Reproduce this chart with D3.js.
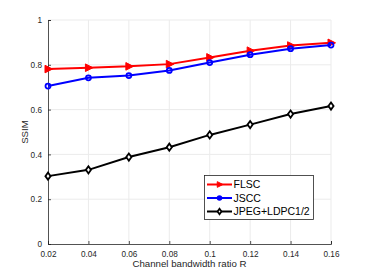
<!DOCTYPE html>
<html>
<head>
<meta charset="utf-8">
<script src="https://cdn.jsdelivr.net/npm/d3@7"></script>
<style>
body { margin: 0; background: #fff; }
text { font-family: "Liberation Sans", Arial, sans-serif; }
</style>
</head>
<body>
<div id="viz"></div>
<script>

var ratios = [0.02, 0.04, 0.06, 0.08, 0.1, 0.12, 0.14, 0.16];
var flsc = [0.781, 0.787, 0.793, 0.803, 0.833, 0.863, 0.886, 0.898];
var jscc = [0.705, 0.742, 0.752, 0.775, 0.810, 0.845, 0.872, 0.888];
var jpeg = [0.303, 0.331, 0.388, 0.432, 0.487, 0.533, 0.580, 0.616];
var xTicks = ["0.02", "0.04", "0.06", "0.08", "0.1", "0.12", "0.14", "0.16"];
var yTicks = ["0", "0.2", "0.4", "0.6", "0.8", "1"];
var names = ["FLSC", "JSCC", "JPEG+LDPC1/2"];

var viz = { width: 366, height: 274 };
var plot = { left: 48, right: 331, top: 20, bottom: 244 };

var svg = d3.select("#viz")
	.append("svg")
	.attr("width", viz.width)
	.attr("height", viz.height);

var x = d3.scaleLinear().domain([0.02, 0.16]).range([plot.left, plot.right]);
var y = d3.scaleLinear().domain([0, 1]).range([plot.bottom, plot.top]);

// grid
svg.append("g").selectAll("line")
	.data(xTicks.slice(1)).enter()
	.append("line")
	.attr("x1", d => x(+d)).attr("x2", d => x(+d))
	.attr("y1", plot.top).attr("y2", plot.bottom)
	.attr("stroke", "#ebebeb").attr("stroke-width", 1);
svg.append("g").selectAll("line")
	.data(yTicks.slice(1)).enter()
	.append("line")
	.attr("y1", d => y(+d)).attr("y2", d => y(+d))
	.attr("x1", plot.left).attr("x2", plot.right)
	.attr("stroke", "#ebebeb").attr("stroke-width", 1);

// axes
var xAxis = svg.append("g")
	.attr("transform", "translate(0," + plot.bottom + ")")
	.call(d3.axisBottom(x).tickValues(xTicks.map(Number)).tickFormat((d, i) => xTicks[i]).tickSize(-3).tickPadding(6));
var yAxis = svg.append("g")
	.attr("transform", "translate(" + plot.left + ",0)")
	.call(d3.axisLeft(y).tickValues(yTicks.map(Number)).tickFormat((d, i) => yTicks[i]).tickSize(-3).tickPadding(6));

[xAxis, yAxis].forEach(function(a) {
	a.select(".domain").attr("stroke", "#262626").attr("stroke-width", 0.8);
	a.selectAll(".tick line").attr("stroke", "#262626").attr("stroke-width", 0.8);
	a.selectAll(".tick text").attr("fill", "#262626").style("font-size", "8.2px")
		.style("font-family", "Liberation Sans, Arial, sans-serif");
});
xAxis.selectAll(".tick text").attr("dy", "0.85em");

svg.append("text")
	.attr("x", (plot.left + plot.right) / 2)
	.attr("y", 267)
	.attr("text-anchor", "middle")
	.attr("fill", "#262626")
	.style("font-size", "9.7px")
	.text("Channel bandwidth ratio R");

svg.append("text")
	.attr("transform", "translate(28," + (plot.top + plot.bottom) / 2 + ") rotate(-90)")
	.attr("text-anchor", "middle")
	.attr("fill", "#262626")
	.style("font-size", "9.7px")
	.text("SSIM");

var series = [
	{ name: names[0], vals: flsc, color: "#ff0000", marker: "tri" },
	{ name: names[1], vals: jscc, color: "#0000ff", marker: "circ" },
	{ name: names[2], vals: jpeg, color: "#000000", marker: "dia" }
];

function drawMarker(g, kind, color, cx, cy, k) {
	k = k || 1;
	if (kind == "tri") {
		g.append("path")
			.attr("d", "M" + (cx - 3 * k) + "," + (cy - 3.8 * k) + "L" + (cx + 4.5 * k) + "," + cy + "L" + (cx - 3 * k) + "," + (cy + 3.8 * k) + "Z")
			.attr("fill", color).attr("stroke", color).attr("stroke-width", 1);
	} else if (kind == "circ") {
		g.append("circle")
			.attr("cx", cx).attr("cy", cy).attr("r", 2.5 * k)
			.attr("fill", "none").attr("stroke", color).attr("stroke-width", 1.8);
	} else {
		g.append("path")
			.attr("d", "M" + cx + "," + (cy - 3.6 * k) + "L" + (cx + 2.6 * k) + "," + cy + "L" + cx + "," + (cy + 3.6 * k) + "L" + (cx - 2.6 * k) + "," + cy + "Z")
			.attr("fill", "#fff").attr("stroke", color).attr("stroke-width", 1.8);
	}
}

var line = d3.line().x((d, i) => x(ratios[i])).y(d => y(d));

series.forEach(function(s) {
	svg.append("path")
		.datum(s.vals)
		.attr("d", line)
		.attr("fill", "none")
		.attr("stroke", s.color)
		.attr("stroke-width", 2);
	var g = svg.append("g");
	s.vals.forEach(function(v, i) {
		drawMarker(g, s.marker, s.color, x(ratios[i]), y(v));
	});
});

// legend
var lg = svg.append("g");
lg.append("rect")
	.attr("x", 204.5).attr("y", 175.5)
	.attr("width", 109).attr("height", 44)
	.attr("fill", "#fff").attr("stroke", "#262626").attr("stroke-width", 0.8);
series.forEach(function(s, i) {
	var ly = 184.5 + i * 13.5;
	lg.append("line")
		.attr("x1", 207).attr("x2", 232)
		.attr("y1", ly).attr("y2", ly)
		.attr("stroke", s.color).attr("stroke-width", 2);
	drawMarker(lg, s.marker, s.color, 219.5, ly, 0.75);
	lg.append("text")
		.attr("x", 233.5).attr("y", ly + 3.8)
		.attr("fill", "#000")
		.style("font-size", "10.5px")
		.text(s.name);
});

</script>
</body>
</html>
